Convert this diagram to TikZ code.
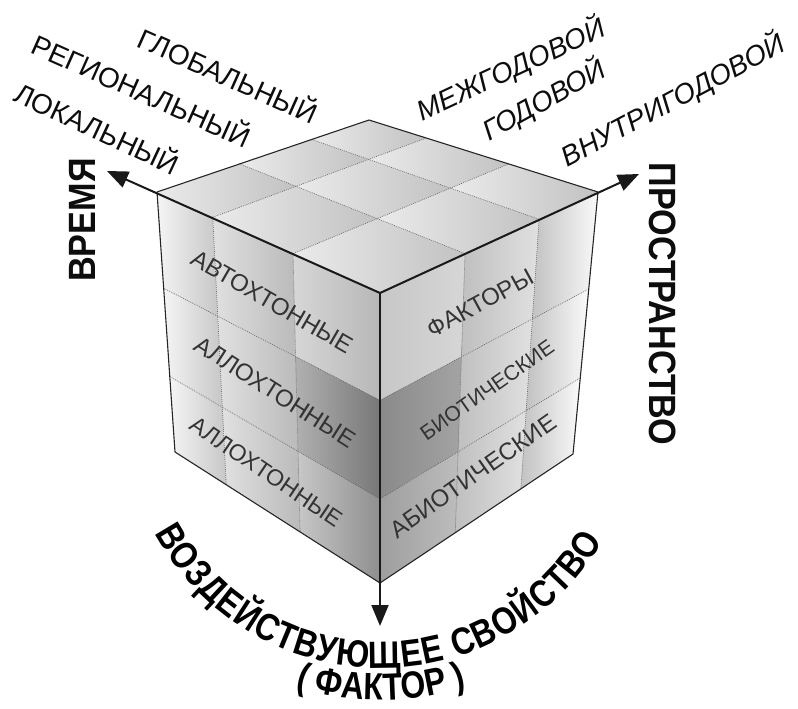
\documentclass[tikz,border=0pt]{standalone}
\usepackage{fontspec}
\setmainfont{Liberation Sans}
\newfontfamily\axisfont[FakeStretch=0.9]{Liberation Sans}
\newfontfamily\arcfont[FakeStretch=0.84]{Liberation Sans}
\usetikzlibrary{calc,arrows.meta,decorations.text}

% one shaded cell of a cube face: face, s from/to, t from/to, left/right shade
\newcommand{\facecell}[7]{%
  \shade[left color=black!#6,right color=black!#7]
    ($($(#1tl)!#2!(#1tr)$)!#4!($(#1bl)!#2!(#1br)$)$) --
    ($($(#1tl)!#3!(#1tr)$)!#4!($(#1bl)!#3!(#1br)$)$) --
    ($($(#1tl)!#3!(#1tr)$)!#5!($(#1bl)!#3!(#1br)$)$) --
    ($($(#1tl)!#2!(#1tr)$)!#5!($(#1bl)!#2!(#1br)$)$) -- cycle;}

\begin{document}
\begin{tikzpicture}[x=1pt,y=-1pt,line join=round,
    edge/.style={black!85,line width=1.1pt},
    gridline/.style={black!60,line width=0.6pt,dash pattern=on 1pt off 1pt},
    axis/.style={black!90,line width=2pt,-{Triangle[length=21pt,width=17pt]}},
    facelabel/.style={text=black!80,inner sep=0,font=\fontsize{24}{24}\selectfont},
    scalelabel/.style={text=black!95,inner sep=0,font=\fontsize{28}{28}\selectfont},
    axislabel/.style={text=black!95,inner sep=0,font=\axisfont\bfseries\fontsize{38}{38}\selectfont}]
  \useasboundingbox (0,0) rectangle (798,709);

  % corners
  \coordinate (O) at (380,293);
  \coordinate (Ltl) at (157,192); \coordinate (Ltr) at (O);
  \coordinate (Lbl) at (175,452); \coordinate (Lbr) at (380,583);
  \coordinate (Rtl) at (O);       \coordinate (Rtr) at (598,192);
  \coordinate (Rbl) at (380,583); \coordinate (Rbr) at (573,454);
  \coordinate (Ttl) at (157,192); \coordinate (Ttr) at (O);
  \coordinate (Tbl) at (369,120); \coordinate (Tbr) at (598,192);

  % shaded cells
  \foreach \sa/\sb/\lc/\rc in {0/.25/4/22,.25/.61/12/27,.61/1/16/28} {
      \foreach \ta/\tb in {0/.37,.37/.71,.71/1} {\facecell{L}{\sa}{\sb}{\ta}{\tb}{\lc}{\rc}}
    }
  \facecell{L}{.61}{1}{.37}{.71}{31}{53}
  \facecell{L}{.61}{1}{.71}{1}{22}{44}
  \foreach \sa/\sb/\lc/\rc in {0/.39/22/16,.39/.73/25/12,.73/1/24/2} {
      \foreach \ta/\tb in {0/.37,.37/.71,.71/1} {\facecell{R}{\sa}{\sb}{\ta}{\tb}{\lc}{\rc}}
    }
  \facecell{R}{0}{.39}{.37}{.71}{46}{36}
  \facecell{R}{0}{.39}{.71}{1}{38}{26}
  \foreach \sa/\sb in {0/.25,.25/.61,.61/1} {
      \foreach \ta/\tb in {0/.39,.39/.73,.73/1} {\facecell{T}{\sa}{\sb}{\ta}{\tb}{8}{24}}
    }

  % dotted grid
  \foreach \sv in {.25,.61} {
      \draw[gridline] ($(Ltl)!\sv!(Ltr)$) -- ($(Lbl)!\sv!(Lbr)$);
      \draw[gridline] ($(Ttl)!\sv!(Ttr)$) -- ($(Tbl)!\sv!(Tbr)$);
    }
  \foreach \sv in {.39,.73} {
      \draw[gridline] ($(Rtl)!\sv!(Rtr)$) -- ($(Rbl)!\sv!(Rbr)$);
      \draw[gridline] ($(Ttl)!\sv!(Tbl)$) -- ($(Ttr)!\sv!(Tbr)$);
    }
  \foreach \tv in {.37,.71} {
      \draw[gridline] ($(Ltl)!\tv!(Lbl)$) -- ($(Ltr)!\tv!(Lbr)$);
      \draw[gridline] ($(Rtl)!\tv!(Rbl)$) -- ($(Rtr)!\tv!(Rbr)$);
    }
  \draw[edge] (Ltl) -- (Tbl) -- (Tbr) -- (Rbr) -- (Rbl) -- (Lbl) -- cycle;

  % axes
  \coordinate (timeTip) at (107,171);
  \coordinate (spaceTip) at (639,174);
  \coordinate (factorTip) at (380,626);
  \draw[axis] (O) -- (timeTip);
  \draw[axis] (O) -- (spaceTip);
  \draw[axis] (O) -- (factorTip);

  % face labels
  \node[facelabel,rotate=-30] (autoch) at (272,302) {АВТОХТОННЫЕ};
  \node[facelabel,rotate=-32.5] (alloch1) at (275,392) {АЛЛОХТОННЫЕ};
  \node[facelabel,rotate=-34,font=\fontsize{23}{23}\selectfont] (alloch2) at (266,472) {АЛЛОХТОННЫЕ};
  \node[facelabel,rotate=28.5] (factors) at (480,303) {ФАКТОРЫ};
  \node[facelabel,rotate=35,font=\fontsize{21}{21}\selectfont] (biotic) at (487,390) {БИОТИЧЕСКИЕ};
  \node[facelabel,rotate=35] (abiotic) at (473,476) {АБИОТИЧЕСКИЕ};

  % scale labels
  \node[scalelabel,rotate=-24] (global) at (229,74) {ГЛОБАЛЬНЫЙ};
  \node[scalelabel,rotate=-24] (regional) at (142,89) {РЕГИОНАЛЬНЫЙ};
  \node[scalelabel,rotate=-25] (local) at (98,127) {ЛОКАЛЬНЫЙ};
  \node[scalelabel,rotate=25,font=\itshape\fontsize{28}{28}\selectfont] (interyear) at (511,69) {МЕЖГОДОВОЙ};
  \node[scalelabel,rotate=29,font=\itshape\fontsize{28}{28}\selectfont] (year) at (544,100) {ГОДОВОЙ};
  \node[scalelabel,rotate=28,font=\itshape\fontsize{28}{28}\selectfont] (intrayear) at (673,100) {ВНУТРИГОДОВОЙ};

  % axis labels
  \node[axislabel,rotate=90] (time) at (82,220) {ВРЕМЯ};
  \node[axislabel,rotate=-90] (space) at (663,304) {ПРОСТРАНСТВО};
  \coordinate (arcA) at (154.3,533.1);
  \coordinate (arcB) at (281.8,682.5);
  \path[decorate,decoration={text along path,text align={fit to path},
      text={|\arcfont\bfseries\fontsize{38}{38}\selectfont|ВОЗДЕЙСТВУЮЩЕЕ СВОЙСТВО}}]
    (arcA) arc[start angle=208.5,end angle=329.4,radius=258pt];
  \path[decorate,decoration={text along path,text align=center,
      text={|\arcfont\bfseries\fontsize{38}{38}\selectfont|( ФАКТОР )}}]
    (arcB) arc[start angle=250,end angle=290,radius=290pt];
\end{tikzpicture}
\end{document}
